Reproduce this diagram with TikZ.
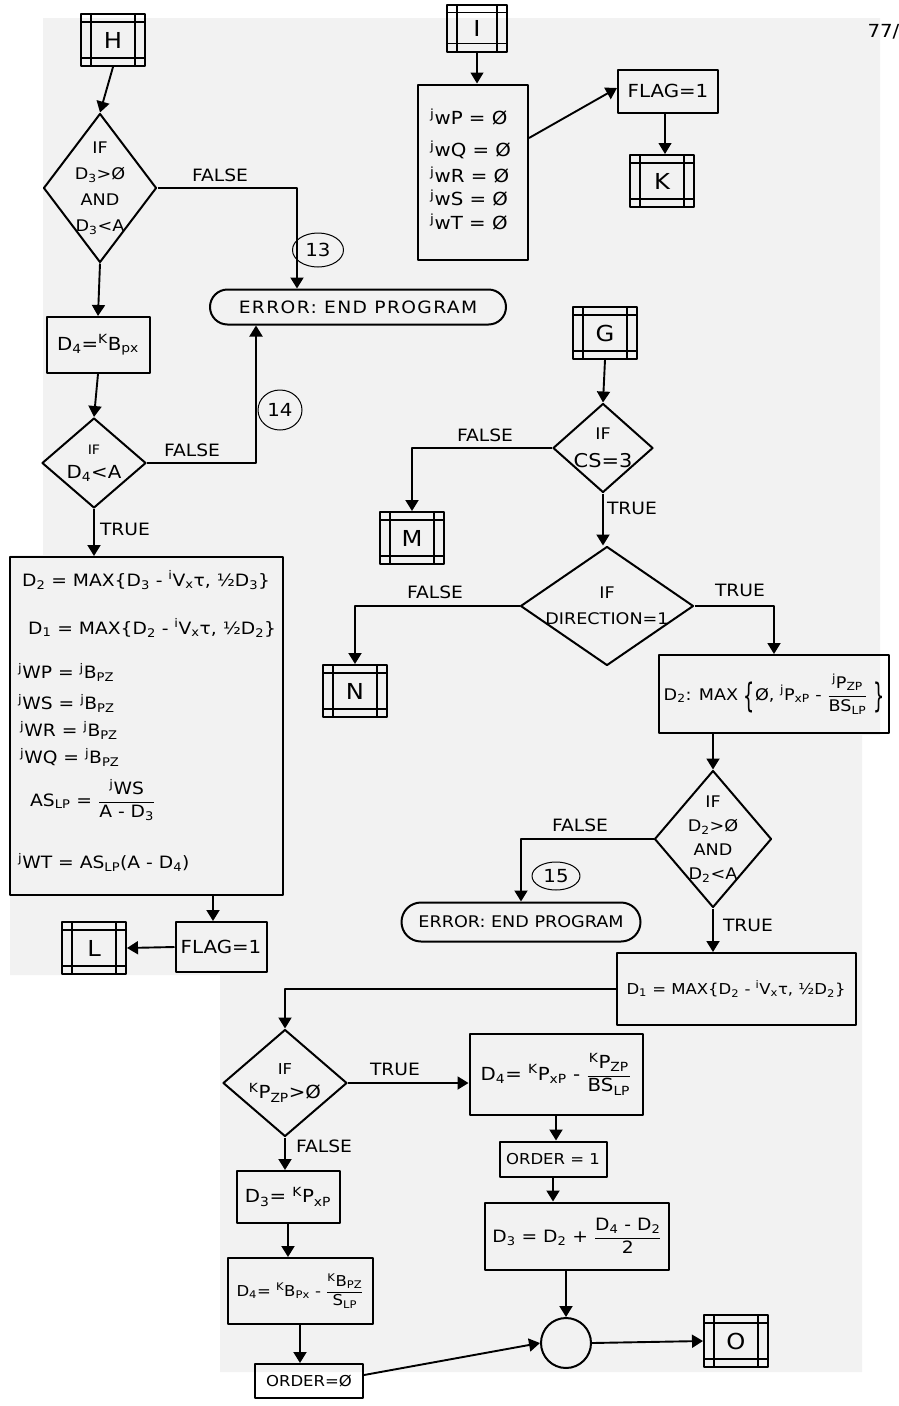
\documentclass[tikz,border=0pt]{standalone}
\usepackage{fontspec}
\setmainfont{DejaVu Sans}[FakeStretch=1.1]
\newfontfamily\spaced{DejaVu Sans}[FakeStretch=1.1, LetterSpace=8]
\usetikzlibrary{shapes.geometric, shapes.misc, arrows.meta}

\newcommand{\subs}[1]{\textsubscript{#1}}
\newcommand{\sups}[1]{\textsuperscript{#1}}
\newcommand{\frc}[2]{$\displaystyle\frac{\mbox{#1}}{\mbox{#2}}$}
\newcommand{\tallbr}[1]{\raisebox{-0.45em}{\scalebox{1}[2.1]{#1}}}
\newcommand{\fs}[1]{\fontsize{#1}{#1}\selectfont}

\tikzstyle{proc}=[draw, line width=2pt, rectangle, inner sep=2pt]
\tikzstyle{decide}=[draw, line width=2pt, diamond, inner sep=0pt]
\tikzstyle{term}=[draw, line width=2pt, rounded rectangle, inner sep=2pt]
\tikzstyle{conn}=[draw, line width=2pt, rectangle, minimum width=64pt, minimum height=52pt,
  font=\fs{22},
  path picture={\draw[line width=1.3pt]
    ([xshift=10pt]path picture bounding box.north west) -- ([xshift=10pt]path picture bounding box.south west)
    ([xshift=-10pt]path picture bounding box.north east) -- ([xshift=-10pt]path picture bounding box.south east)
    ([yshift=-8pt]path picture bounding box.north west) -- ([yshift=-8pt]path picture bounding box.north east)
    ([yshift=8pt]path picture bounding box.south west) -- ([yshift=8pt]path picture bounding box.south east);}]
\tikzstyle{flow}=[line width=1.9pt, -{Triangle[width=13pt,length=11pt]}]
\tikzstyle{lbl}=[font=\fs{17}, inner sep=1pt]
\tikzstyle{tag}=[draw, ellipse, line width=1pt, inner sep=0pt, font=\fs{18}]
\tikzstyle{cond}=[align=center, font=\fontsize{16}{26}\selectfont]

\begin{document}
\begin{tikzpicture}[x=1pt, y=-1pt, font=\fs{16}, line join=round]
\useasboundingbox (0,0) rectangle (899,1406);
% the sheet
\fill[black!5] (43,18) -- (880,18) -- (880,735) -- (862,735) -- (862,1372) -- (220,1372)
  -- (220,975) -- (10,975) -- (10,555) -- (43,555) -- cycle;

% left column, entry H
\node[conn] (H) at (113,40) {H};
\node[decide, minimum width=113pt, minimum height=149pt,
  label={[cond]center:{IF\\D\subs{3}>Ø\\AND\\D\subs{3}<A}}] (ifD3) at (100,188) {};
\node[term, minimum width=300pt, minimum height=35pt, font=\fs{17}] (err1) at (358,307) {{\spaced ERROR: END PROGRAM}};
\node[proc, minimum width=103pt, minimum height=56pt, font=\fs{18}] (setD4) at (98,345) {D\subs{4}=\sups{K}B\subs{px}};
\node[decide, minimum width=104pt, minimum height=90pt,
  label={[cond, font=\fontsize{18}{24}\selectfont]center:{{\fs{13}IF}\\D\subs{4}<A}}] (ifD4) at (94,463) {};
\node[proc, minimum width=273pt, minimum height=338pt] (calcA) at (146,726) {};
\foreach \x/\y/\t [count=\i] in {
    22/580/{D\subs{2} = MAX\{D\subs{3} - \sups{i}V\subs{x}τ, ½D\subs{3}\}},
    28/628/{D\subs{1} = MAX\{D\subs{2} - \sups{i}V\subs{x}τ, ½D\subs{2}\}},
    18/672/{\sups{j}WP = \sups{j}B\subs{PZ}},
    18/703/{\sups{j}WS = \sups{j}B\subs{PZ}},
    20/730/{\sups{j}WR = \sups{j}B\subs{PZ}},
    20/757/{\sups{j}WQ = \sups{j}B\subs{PZ}},
    30/800/{AS\subs{LP} = \frc{\sups{j}WS}{A - D\subs{3}}},
    18/862/{\sups{j}WT = AS\subs{LP}(A - D\subs{4})}}
  \node[anchor=west, inner sep=0pt, font=\fs{17}] (calcA\i) at (\x,\y) {\t};
\node[proc, minimum width=91pt, minimum height=50pt, font=\fs{18}] (flagA) at (221,947) {FLAG=1};
\node[conn] (L) at (94,948) {L};

% top right, entry I
\node[conn, minimum width=60pt, minimum height=47pt] (I) at (477,28) {I};
\node[proc, minimum width=110pt, minimum height=175pt] (zeroW) at (473,172) {};
\foreach \y/\w [count=\i] in {117/P, 150/Q, 175/R, 198/S, 222/T}
  \node[anchor=west, inner sep=0pt, font=\fs{18}] (zeroW\i) at (430,\y) {\sups{j}w{\w} = Ø};
\node[proc, minimum width=100pt, minimum height=43pt, font=\fs{18}] (flagB) at (668,91) {FLAG=1};
\node[conn] (K) at (662,181) {K};
\node[anchor=west, font=\fs{18}] (page) at (864,32) {77/};

% middle, entry G
\node[conn] (G) at (605,333) {G};
\node[decide, minimum width=100pt, minimum height=89pt,
  label={[cond, font=\fontsize{19}{28}\selectfont]center:{{\fs{16}IF}\\CS=3}}] (ifCS) at (603,448) {};
\node[conn] (M) at (412,538) {M};
\node[decide, minimum width=173pt, minimum height=119pt,
  label={[cond]center:{IF\\DIRECTION=1}}] (ifDir) at (607,606) {};
\node[conn] (N) at (355,691) {N};
\node[proc, minimum width=230pt, minimum height=78pt, font=\fs{16}] (setD2) at (774,694)
  {D\subs{2}: MAX \tallbr{\{}Ø, \sups{j}P\subs{xP} - \frc{\sups{j}P\subs{ZP}}{BS\subs{LP}} \tallbr{\}}};
\node[decide, minimum width=117pt, minimum height=137pt,
  label={[cond, font=\fontsize{16}{24}\selectfont]center:{IF\\D\subs{2}>Ø\\AND\\D\subs{2}<A}}] (ifD2) at (713,839) {};
\node[term, minimum width=243pt, minimum height=39pt] (err2) at (521,922) {ERROR: END PROGRAM};
\node[proc, minimum width=239pt, minimum height=72pt, font=\fs{15}] (setD1) at (736,989)
  {D\subs{1} = MAX\{D\subs{2} - \sups{i}V\subs{x}τ, ½D\subs{2}\}};

% bottom part
\node[decide, minimum width=124pt, minimum height=107pt,
  label={[cond, font=\fontsize{18}{24}\selectfont]center:{{\fs{15}IF}\\\sups{K}P\subs{ZP}>Ø}}] (ifKP) at (285,1083) {};
\node[proc, minimum width=173pt, minimum height=81pt, font=\fs{18}] (setD4b) at (556,1074)
  {D\subs{4}= \sups{K}P\subs{xP} - \frc{\sups{K}P\subs{ZP}}{BS\subs{LP}}};
\node[proc, minimum width=107pt, minimum height=35pt, font=\fs{15}] (ordA) at (553,1159) {ORDER = 1};
\node[proc, minimum width=184pt, minimum height=67pt, font=\fs{17}] (setD3b) at (577,1236)
  {D\subs{3} = D\subs{2} + \frc{D\subs{4} - D\subs{2}}{2}};
\node[proc, minimum width=103pt, minimum height=52pt, font=\fs{18}] (setD3a) at (288,1197) {D\subs{3}= \sups{K}P\subs{xP}};
\node[proc, minimum width=145pt, minimum height=66pt, font=\fs{15}] (setD4c) at (300,1291)
  {D\subs{4}= \sups{K}B\subs{Px} - \frc{\sups{K}B\subs{PZ}}{S\subs{LP}}};
\node[proc, minimum width=108pt, minimum height=34pt, font=\fs{15}] (ordB) at (309,1381) {ORDER=Ø};
\node[draw, circle, line width=2pt, minimum size=50pt] (join) at (566,1343) {};
\node[conn] (O) at (736,1341) {O};

% circled numbers
\node[tag, minimum width=51pt, minimum height=34pt] (t13) at (318,250) {13};
\node[tag, minimum width=44pt, minimum height=40pt] (t14) at (280,410) {14};
\node[tag, minimum width=48pt, minimum height=28pt] (t15) at (556,876) {15};

% branch labels
\node[lbl] (f1) at (220,175) {FALSE};
\node[lbl] (f2) at (192,450) {FALSE};
\node[lbl] (t2) at (125,529) {TRUE};
\node[lbl] (f3) at (485,435) {FALSE};
\node[lbl] (t3) at (632,508) {TRUE};
\node[lbl] (f4) at (435,592) {FALSE};
\node[lbl] (t4) at (740,590) {TRUE};
\node[lbl] (f5) at (580,825) {FALSE};
\node[lbl] (t5) at (748,925) {TRUE};
\node[lbl] (t6) at (395,1069) {TRUE};
\node[lbl] (f6) at (324,1146) {FALSE};

% flow lines
\draw[flow] (H.south) -- (ifD3.north);
\draw[flow] (ifD3.east) -| ([xshift=-61pt]err1.north);
\draw[flow] (ifD3.south) -- (setD4.north);
\draw[flow] (setD4.south) -- (ifD4.north);
\draw[flow] (ifD4.east) -| ([xshift=-102pt]err1.south);
\draw[flow] (ifD4.south) -- (ifD4.south |- calcA.north);
\draw[flow] ([xshift=-8pt]flagA.north |- calcA.south) -- ([xshift=-8pt]flagA.north);
\draw[flow] (flagA.west) -- (L.east);
\draw[flow, line width=1.2pt] (I.south) -- (I.south |- zeroW.north);
\draw[flow] ([yshift=34pt]zeroW.east) -- ([yshift=3pt]flagB.west);
\draw[flow, line width=1.2pt] ([xshift=-3pt]flagB.south) -- ([xshift=-3pt]flagB.south |- K.north);
\draw[flow] (G.south) -- (ifCS.north);
\draw[flow] (ifCS.west) -| (M.north);
\draw[flow] (ifCS.south) -- (ifCS.south |- ifDir.north);
\draw[flow] (ifDir.west) -| (N.north);
\draw[flow] (ifDir.east) -| (setD2.north);
\draw[flow] (ifD2.north |- setD2.south) -- (ifD2.north);
\draw[flow] (ifD2.west) -| (err2.north);
\draw[flow] (ifD2.south) -- (ifD2.south |- setD1.north);
\draw[flow] (setD1.west) -| (ifKP.north);
\draw[flow] (ifKP.east) -- (ifKP.east -| setD4b.west);
\draw[flow] (ifKP.south) -- (ifKP.south |- setD3a.north);
\draw[flow] (setD3a.south) -- (setD3a.south |- setD4c.north);
\draw[flow] (setD4c.south) -- (setD4c.south |- ordB.north);
\draw[flow] (setD4b.south) -- (setD4b.south |- ordA.north);
\draw[flow] (ordA.south) -- (ordA.south |- setD3b.north);
\draw[flow] (join.north |- setD3b.south) -- (join.north);
\draw[flow] ([yshift=6pt]ordB.east) -- (join.west);
\draw[flow] (join.east) -- (O.west);
\end{tikzpicture}
\end{document}
